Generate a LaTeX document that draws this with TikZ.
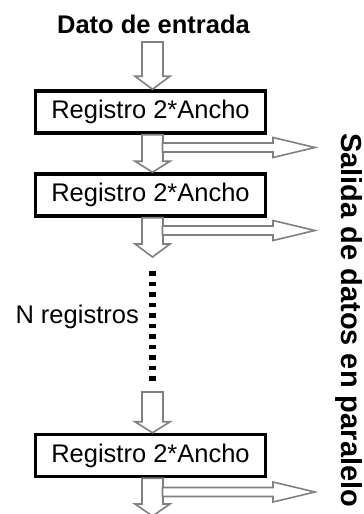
\documentclass[tikz,border=0pt]{standalone}
\usepackage{fontspec}
\setmainfont{Liberation Sans}
\usetikzlibrary{calc}
\tikzset{
  regbox/.style={draw=black, line width=3.5pt, fill=white, minimum width=230pt, minimum height=42pt, inner sep=0pt, font=\fontsize{25.5}{30}\selectfont},
  blk/.style={draw=black!50, line width=1.6pt, fill=white, line join=miter},
  dotline/.style={line width=7pt, dash pattern=on 4.5pt off 6pt, black},
  lbl/.style={inner sep=0pt, font=\fontsize{25.5}{30}\selectfont},
}
\newcommand\vblock[3]{% start, tip, head length
  \draw[blk] let \p1=#1, \p2=#2 in
    (\x1-10.5pt,\y1) -- (\x1+10.5pt,\y1) -- (\x1+10.5pt,\y2+#3) -- (\x1+17.5pt,\y2+#3)
    -- (\x1,\y2) -- (\x1-17.5pt,\y2+#3) -- (\x1-10.5pt,\y2+#3) -- cycle;}
\newcommand\hblock[2]{% start, tip
  \draw[blk] let \p1=#1, \p2=#2 in
    (\x1,\y1+4.5pt) -- (\x2-42pt,\y1+4.5pt) -- (\x2-42pt,\y1+10pt) -- (\x2,\y1)
    -- (\x2-42pt,\y1-10pt) -- (\x2-42pt,\y1-4.5pt) -- (\x1,\y1-4.5pt) -- cycle;}
\begin{document}
\begin{tikzpicture}[x=1pt,y=-1pt]
\useasboundingbox (0,0) rectangle (364,514);
% axis of the vertical arrows
\coordinate (ax) at (152.5,0);
\node[lbl, font=\fontsize{25.5}{30}\selectfont\bfseries, anchor=base] (title) at (153.5,33) {Dato de entrada};
\node[regbox] (b1) at (150.5,112) {Registro 2*Ancho};
\node[regbox] (b2) at (150.5,195) {Registro 2*Ancho};
\node[regbox] (b3) at (150.5,455.5) {Registro 2*Ancho};
\coordinate (in0) at (152.5,42);
\coordinate (d1) at (152.5,271);
\coordinate (d2) at (152.5,384);
\coordinate (a3s) at (152.5,392);
\coordinate (endtip) at (152.5,516);
\coordinate (o1) at (162.5,147.5);
\coordinate (t1) at (315,147.5);
\coordinate (o2) at (162.5,230.5);
\coordinate (t2) at (315,230.5);
\coordinate (o3) at (162.5,492);
\coordinate (t3) at (315,492);
\coordinate (a2tip) at (152.5,257);
% vertical block arrows
\vblock{(in0)}{(b1.north -| ax)}{13pt}
\vblock{(b1.south -| ax)}{(b2.north -| ax)}{11pt}
\vblock{(b2.south -| ax)}{(a2tip)}{13pt}
\vblock{(a3s)}{(b3.north -| ax)}{11pt}
\vblock{(b3.south -| ax)}{(endtip)}{12pt}
% side outputs
\hblock{(o1)}{(t1)}
\hblock{(o2)}{(t2)}
\hblock{(o3)}{(t3)}
% dotted continuation
\draw[dotline] (d1) -- (d2);
\node[lbl, anchor=base east] (nreg) at (139,323) {N registros};
\node[inner sep=0pt, rotate=-90, anchor=base west, font=\fontsize{29}{34}\selectfont\bfseries] (out) at (341,133) {Salida de datos en paralelo};
\end{tikzpicture}
\end{document}
